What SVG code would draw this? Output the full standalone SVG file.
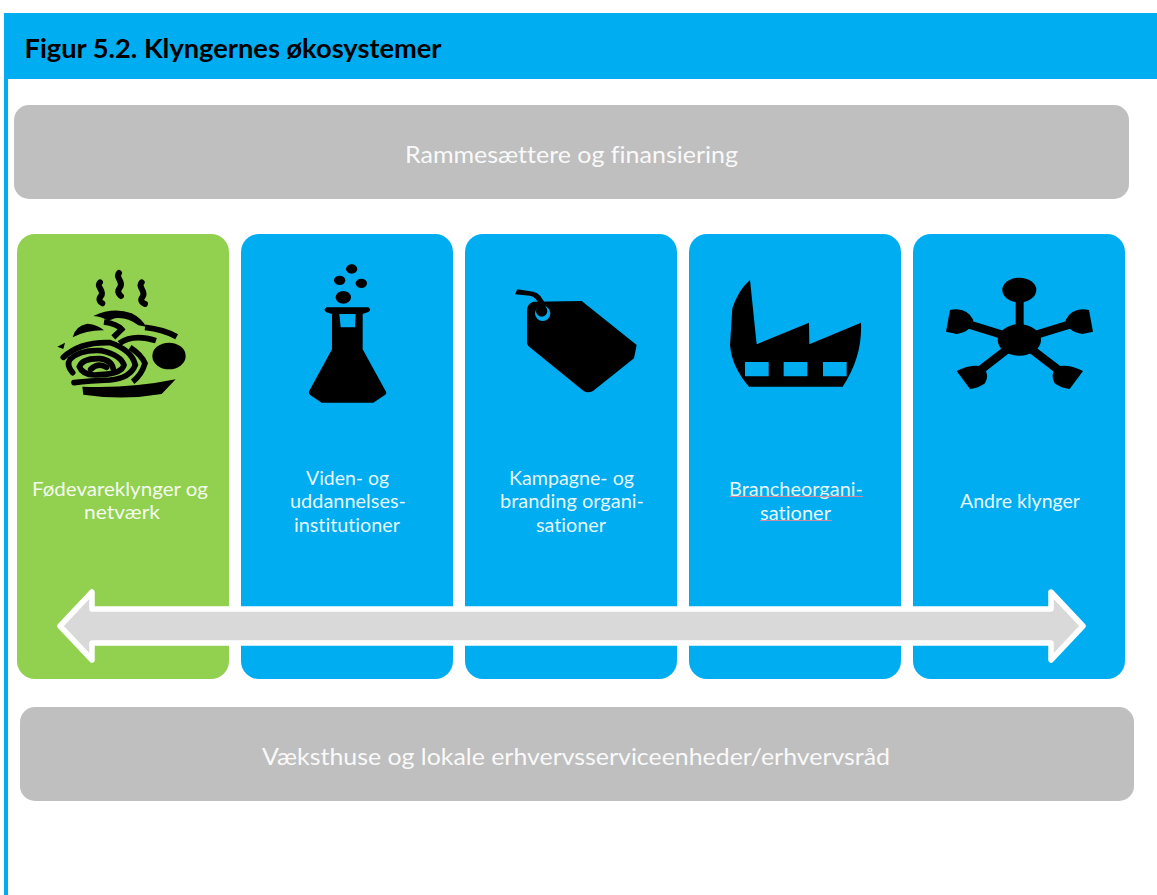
<svg xmlns="http://www.w3.org/2000/svg" width="1157" height="895" viewBox="0 0 1157 895">
<style>
text{font-family:"Lato","Liberation Sans",sans-serif;fill:#fff;fill-opacity:.92;text-anchor:middle;font-variant-ligatures:none}
.l{font-size:24px}.c{font-size:18.5px}
.g{fill:#bfbfbf}.b{fill:#00adf0}.n{fill:#92d150}
.k{fill:none;stroke:#000;stroke-linecap:round;stroke-width:20}
.u{stroke:#c98aa5;stroke-width:1.2}
</style>
<rect width="1157" height="895" fill="#fff"/>
<g id="frame"><rect class="b" x="4" y="13" width="1153" height="66"/><rect class="b" x="4" y="79" width="4" height="816"/>
<text x="233" y="58" textLength="417" lengthAdjust="spacingAndGlyphs" style="fill:#000;fill-opacity:1;font-weight:700;font-size:26.500px">Figur 5.2. Klyngernes økosystemer</text></g>
<g id="top"><rect class="g" x="14" y="105" width="1115" height="94" rx="15"/>
<text class="l" x="571.500" y="163" textLength="333" lengthAdjust="spacingAndGlyphs">Rammesættere og finansiering</text></g>
<g id="card1"><rect class="n" x="17" y="234" width="212" height="445" rx="18"/>
<g transform="translate(30,250) scale(.33333)">
<path class="k" style="stroke-width:18" d="M210,97C196,110 226,122 213,138C203,150 212,158 217,160M267,69C254,84 283,94 270,112C258,127 270,135 273,138M335,97C321,110 350,124 338,140C328,152 338,160 345,162"/>
<ellipse cx="417" cy="318" rx="50" ry="40"/>
<path d="M157,410Q300,416 437,388L395,432Q280,452 160,434Z"/>
<path d="M190,198Q250,170 305,190Q335,205 348,230L325,226Q290,200 255,205L235,212Q215,200 190,198Z"/>
<path d="M128,262Q135,228 172,221Q205,224 222,241Q170,240 128,262Z"/>
<path d="M82,290L105,278L100,297Z"/>
<path class="k" style="stroke-width:17;stroke-linecap:butt" d="M222,216Q262,222 275,238L250,262M345,232Q400,238 440,260M268,280Q310,250 378,272M300,292Q335,315 345,340Q335,375 308,395"/>
<path class="k" style="stroke-width:17" d="M100,322Q150,275 240,278Q305,300 316,345Q300,385 240,390Q180,392 132,398"/>
<path class="k" style="stroke-width:17" d="M128,368Q108,345 120,328Q150,298 215,302Q272,315 282,345Q275,372 210,374Q160,380 148,350Q158,324 210,326Q245,330 250,358"/>
<path class="k" style="stroke-width:17" d="M182,358Q205,336 230,352"/>
</g>
<text class="c" x="120" y="496" textLength="176" lengthAdjust="spacingAndGlyphs">Fødevareklynger og</text>
<text class="c" x="122" y="519" textLength="76" lengthAdjust="spacingAndGlyphs">netværk</text></g>
<g id="card2"><rect class="b" x="241" y="234" width="212" height="445" rx="18"/>
<g transform="translate(30,250) scale(.33333)">
<path fill-rule="evenodd" d="M890,172L1015,172Q1026,179 1015,186L998,192L998,298L1068,425Q1072,432 1060,438L1030,458L875,458L845,438Q833,430 838,422L906,298L906,192L888,186Q878,179 890,172ZM928,192L977,192L975,232L932,232Z"/>
<ellipse cx="965" cy="57" rx="17" ry="14"/><ellipse cx="929" cy="91" rx="17" ry="14"/><ellipse cx="994" cy="100" rx="17" ry="14"/><ellipse cx="940" cy="142" rx="23" ry="19"/>
</g>
<text class="c" x="347.500" y="485" textLength="83" lengthAdjust="spacingAndGlyphs">Viden- og</text>
<text class="c" x="348" y="508" textLength="116" lengthAdjust="spacingAndGlyphs">uddannelses-</text>
<text class="c" x="347" y="532" textLength="106" lengthAdjust="spacingAndGlyphs">institutioner</text></g>
<g id="card3"><rect class="b" x="465" y="234" width="212" height="445" rx="18"/>
<g transform="translate(490,260) scale(.33333)">
<path d="M130,125L275,123L440,255L432,295L310,392Q295,402 280,392L115,258L111,250L111,150Q112,130 130,125Z"/>
<circle cx="158" cy="160" r="23" class="b"/><circle cx="155" cy="153" r="17"/>
<path d="M75,103L82,88L130,95Q155,100 168,140L150,140Q140,110 120,107Z"/>
</g>
<text class="c" x="571.500" y="485" textLength="125" lengthAdjust="spacingAndGlyphs">Kampagne- og</text>
<text class="c" x="572" y="508" textLength="144" lengthAdjust="spacingAndGlyphs">branding organi-</text>
<text class="c" x="571" y="532" textLength="70" lengthAdjust="spacingAndGlyphs">sationer</text></g>
<g id="card4"><rect class="b" x="689" y="234" width="212" height="445" rx="18"/>
<g transform="translate(490,260) scale(.33333)">
<path fill-rule="evenodd" d="M780,60L800,253L957,188L958,253L1113,188Q1118,290 1058,380L777,380Q725,320 720,255L727,145Q745,90 780,60ZM765,306H836V349H765ZM881,306H952V349H881ZM999,306H1070V349H999Z"/>
</g>
<text class="c" x="796" y="496" textLength="134" lengthAdjust="spacingAndGlyphs">Brancheorgani-</text>
<text class="c" x="795.500" y="520" textLength="71" lengthAdjust="spacingAndGlyphs">sationer</text>
<path class="u" d="M729,496.500H863M760,520.500H832"/></g>
<g id="card5"><rect class="b" x="913" y="234" width="212" height="445" rx="18"/>
<g transform="translate(930,265) scale(.33333)">
<ellipse cx="268" cy="225" rx="65" ry="47"/><ellipse cx="268" cy="75" rx="51" ry="37"/>
<path d="M257,100H281V190H257Z"/>
<path class="k" style="stroke-width:25;stroke-linecap:butt" d="M110,176L268,225L426,176M145,320L268,225L392,320"/>
<path d="M60,135Q110,125 130,165Q125,200 80,207L48,200Z"/>
<path d="M477,135Q427,125 407,165Q412,200 457,207L489,200Z"/>
<path d="M80,318Q125,295 160,305Q180,330 165,355Q145,370 120,372Z"/>
<path d="M459,318Q414,295 379,305Q359,330 374,355Q394,370 419,372Z"/>
</g>
<text class="c" x="1020" y="508" textLength="120" lengthAdjust="spacingAndGlyphs">Andre klynger</text></g>
<g id="connectors"><path d="M60,626L92,592V609H1051V592L1083,626L1051,660V643H92V660Z" fill="#d9d9d9" stroke="#fff" stroke-width="5.500" stroke-linejoin="round"/></g>
<g id="bottom"><rect class="g" x="20" y="707" width="1114" height="94" rx="15"/>
<text class="l" x="576" y="765" textLength="628" lengthAdjust="spacingAndGlyphs">Væksthuse og lokale erhvervsserviceenheder/erhvervsråd</text></g>
</svg>
